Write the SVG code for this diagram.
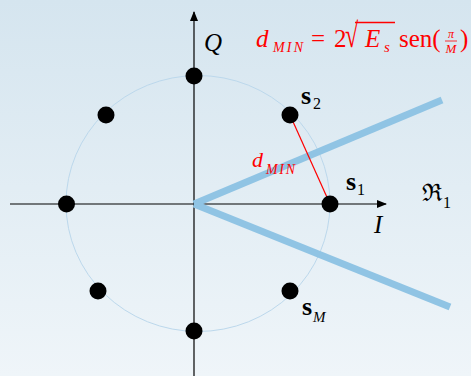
<svg xmlns="http://www.w3.org/2000/svg" width="471" height="376" viewBox="0 0 471 376">
<defs>
<linearGradient id="bg" x1="0" y1="0" x2="0" y2="1">
<stop offset="0" stop-color="#d5e5ef"/>
<stop offset="1" stop-color="#eff5f9"/>
</linearGradient>
<marker id="arr" markerWidth="10" markerHeight="8" refX="9" refY="4" orient="auto" markerUnits="userSpaceOnUse">
<path d="M0,0 L10,4 L0,8 Z" fill="#000"/>
</marker>
<style>
.dot{fill:#000}
.ax{stroke:#000;stroke-width:1.2;fill:none}
.bnd{stroke:#90c4e4;stroke-width:7;stroke-linecap:butt}
.t{font-family:"Liberation Serif","DejaVu Serif",serif;fill:#000}
.r{font-family:"Liberation Serif","DejaVu Serif",serif;fill:#ff0000}
.i{font-style:italic}
.b{font-weight:bold}
</style>
</defs>
<rect width="471" height="376" fill="url(#bg)"/>
<ellipse cx="198" cy="203.5" rx="132" ry="128" fill="none" stroke="#bcd8ec" stroke-width="1"/>
<g id="connectors">
<line class="ax" x1="10" y1="204" x2="386" y2="204" marker-end="url(#arr)"/>
<line class="ax" x1="194" y1="376" x2="194" y2="12" marker-end="url(#arr)"/>
<line class="bnd" x1="194" y1="204" x2="442" y2="100"/>
<line class="bnd" x1="194" y1="204" x2="450" y2="307"/>
<line x1="290" y1="115" x2="330" y2="204" stroke="#ff0000" stroke-width="1.2"/>
</g>
<g id="s1"><circle class="dot" cx="330" cy="204" r="8.5"/></g>
<g id="s2"><circle class="dot" cx="290" cy="115" r="8.5"/></g>
<g id="p3"><circle class="dot" cx="194" cy="76" r="8.5"/></g>
<g id="p4"><circle class="dot" cx="106" cy="115" r="8.5"/></g>
<g id="p5"><circle class="dot" cx="66.5" cy="204" r="8.5"/></g>
<g id="p6"><circle class="dot" cx="98" cy="291" r="8.5"/></g>
<g id="p7"><circle class="dot" cx="194" cy="331" r="8.5"/></g>
<g id="sM"><circle class="dot" cx="290" cy="291" r="8.5"/></g>
<g id="labels">
<text class="t i" x="204" y="51" font-size="25">Q</text>
<text class="t i" x="374" y="233" font-size="25">I</text>
<text class="t" x="422" y="201" font-size="24">ℜ</text>
<text class="t" x="443" y="208" font-size="16">1</text>
<text class="t b" x="301" y="104" font-size="26">s</text>
<text class="t" x="313" y="109" font-size="16">2</text>
<text class="t b" x="346" y="190" font-size="26">s</text>
<text class="t" x="357" y="195" font-size="16">1</text>
<text class="t b" x="302" y="315" font-size="26">s</text>
<text class="t i" x="313" y="322" font-size="15">M</text>
<text class="r i" x="252" y="167" font-size="22">d</text>
<text class="r i" x="266" y="174" font-size="14" textLength="29" lengthAdjust="spacing">MIN</text>
<text class="r i" x="256" y="47" font-size="25">d</text>
<text class="r i" x="273" y="52" font-size="14" textLength="30" lengthAdjust="spacing">MIN</text>
<text class="r" x="311" y="47" font-size="25">=</text>
<text class="r" x="334" y="47" font-size="25">2</text>
<text class="r" font-size="24" transform="translate(345,47) scale(1,1.45)">√</text>
<line x1="355" y1="22.5" x2="395" y2="22.5" stroke="#ff0000" stroke-width="1.5"/>
<text class="r i" x="365" y="47" font-size="25">E</text>
<text class="r i" x="384" y="52" font-size="15">s</text>
<text class="r" x="399" y="47" font-size="25">sen(</text>
<text class="r i" x="451" y="38" font-size="12" text-anchor="middle">π</text>
<line x1="445" y1="41" x2="457" y2="41" stroke="#ff0000" stroke-width="0.8"/>
<text class="r i" x="451" y="53" font-size="13" text-anchor="middle">M</text>
<text class="r" x="460" y="47" font-size="25">)</text>
</g>
</svg>
